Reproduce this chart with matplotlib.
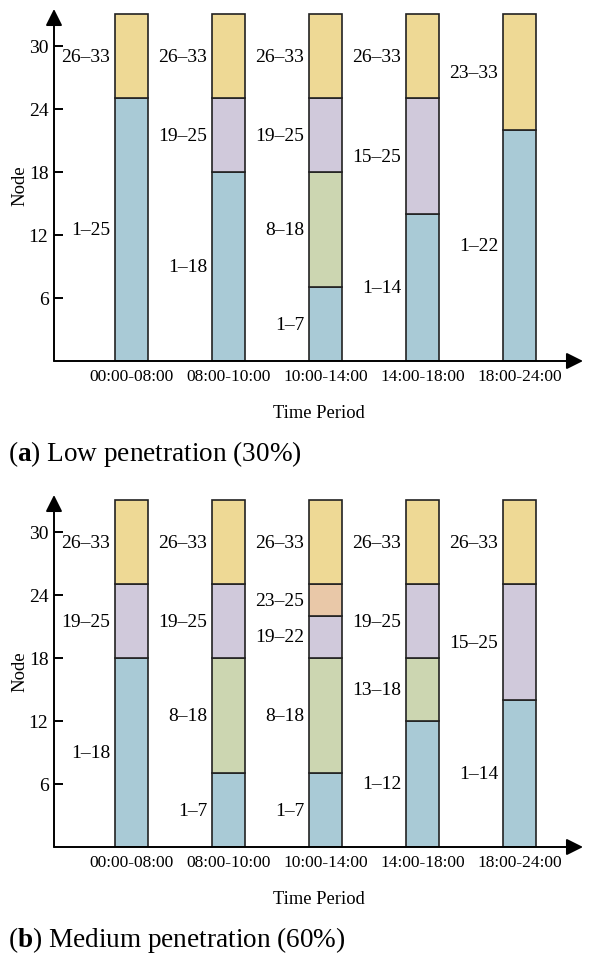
import matplotlib
matplotlib.use('Agg')
import matplotlib.pyplot as plt

plt.rcParams['font.family'] = ['Liberation Serif', 'DejaVu Serif']
plt.rcParams['mathtext.fontset'] = 'custom'
plt.rcParams['mathtext.rm'] = 'Liberation Serif'
plt.rcParams['mathtext.bf'] = 'Liberation Serif:bold'

# Data
periods = ['00:00-08:00', '08:00-10:00', '10:00-14:00', '14:00-18:00', '18:00-24:00']
yticks = [6, 12, 18, 24, 30]

# upper node of each segment, bottom to top
low_tops = [[25, 33], [18, 25, 33], [7, 18, 25, 33], [14, 25, 33], [22, 33]]
low_groups = [['A', 'E'], ['A', 'C', 'E'], ['A', 'B', 'C', 'E'], ['A', 'C', 'E'], ['A', 'E']]
med_tops = [[18, 25, 33], [7, 18, 25, 33], [7, 18, 22, 25, 33], [12, 18, 25, 33], [14, 25, 33]]
med_groups = [['A', 'C', 'E'], ['A', 'B', 'C', 'E'], ['A', 'B', 'C', 'D', 'E'],
              ['A', 'B', 'C', 'E'], ['A', 'C', 'E']]

colors = {'A': '#a9cad6', 'B': '#ccd6b1', 'C': '#d0c9db', 'D': '#e9c8a8', 'E': '#eed995'}

captions = [r'($\mathbf{a}$) Low penetration (30%)', r'($\mathbf{b}$) Medium penetration (60%)']

W, H = 593, 970
fig = plt.figure(figsize=(W / 100, H / 100), dpi=100)

bar_w = 0.34


def draw_panel(top_px, tops, groups, caption):
    # axes box in pixels: left 54, right 583 (arrow tips), top = arrow tip
    left, right = 54, 583
    bottom_px = top_px + 352
    ax = fig.add_axes([left / W, (H - bottom_px) / H, (right - left) / W, (bottom_px - top_px) / H])
    ax.set_xlim(-0.80, 4.655)
    ax.set_ylim(0, 33.5)
    for s in ax.spines.values():
        s.set_visible(False)

    for i, (tp, gp) in enumerate(zip(tops, groups)):
        lo = 0
        for hi, g in zip(tp, gp):
            ax.bar(i, hi - lo, bottom=lo, width=bar_w, color=colors[g],
                   edgecolor='#222222', linewidth=1.2, zorder=2)
            ax.text(i - bar_w / 2 - 0.05, (lo + hi) / 2, f'{lo + 1}\u2013{hi}',
                    ha='right', va='center', fontsize=14)
            lo = hi

    # axis arrows
    arrow = dict(arrowstyle='-|>,head_length=1.0,head_width=0.5', mutation_scale=10,
                 color='black', lw=1.4, shrinkA=0, shrinkB=0)
    ax.annotate('', xy=(1, 0), xytext=(0, 0), xycoords='axes fraction', arrowprops=arrow)
    ax.annotate('', xy=(0, 1), xytext=(0, 0), xycoords='axes fraction', arrowprops=arrow)

    ax.set_yticks(yticks)
    ax.set_xticks(range(len(periods)))
    ax.set_xticklabels(periods)
    ax.tick_params(axis='y', direction='in', length=6.5, width=1.4, pad=4, labelsize=14)
    ax.tick_params(axis='x', length=0, pad=5, labelsize=12.5)

    ax.text(-34 / 529, 0.5, 'Node', rotation=90, transform=ax.transAxes,
            ha='center', va='center', fontsize=13.5)
    ax.text(0.5, -52 / 352, 'Time Period', transform=ax.transAxes,
            ha='center', va='center', fontsize=13.3)

    fig.text(8 / W, 1 - (bottom_px + 92) / H, caption, ha='left', va='center', fontsize=19.6)


draw_panel(10, low_tops, low_groups, captions[0])
draw_panel(496, med_tops, med_groups, captions[1])

fig.savefig('out.png', dpi=100)
